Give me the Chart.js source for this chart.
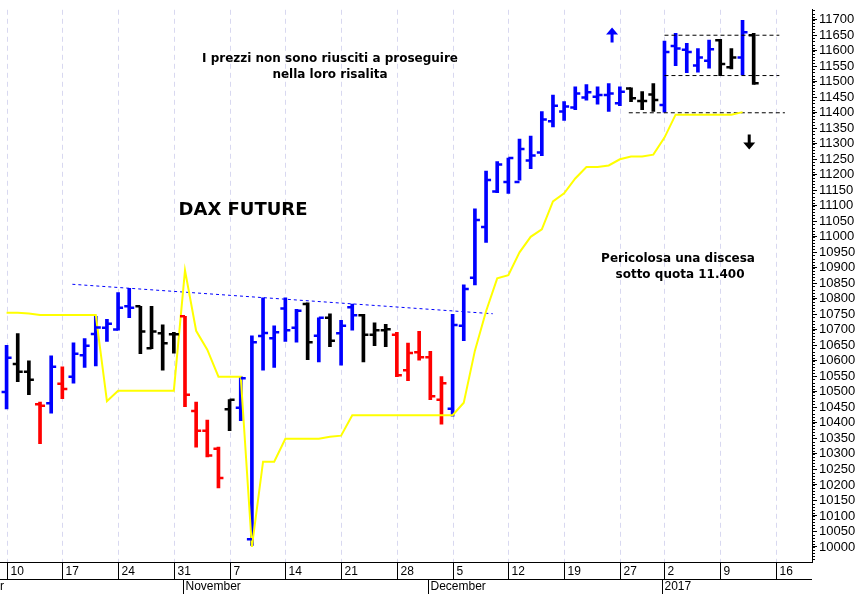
<!DOCTYPE html>
<html><head><meta charset="utf-8">
<script src="https://cdn.jsdelivr.net/npm/chart.js@4/dist/chart.umd.min.js"></script>
<style>html,body{margin:0;padding:0;background:#fff}canvas{display:block}</style>
</head><body>
<canvas id="c" width="861" height="594"></canvas>
<script>
// trading-day index 0 = Mon 10 Oct 2016
const opens  = [10500,10590,10565,10460,10463,10526,10549,10618,10687,10707,10701,10776,10776,10641,10689,10686,10744,10438,10375,10317,10444,10449,10025,10680,10673,10769,10707,10783,10681,10739,10689,10773,10747,10684,10699,10684,10570,10628,10612,10475,10446,10713,10868,11032,11146,11177,11177,11246,11272,11373,11404,11417,11449,11452,11457,11431,11478,11438,11459,11425,11615,11603,11552,11568,11634,11547,11578,11650];
const highs  = [10650,10688,10600,10467,10616,10581,10658,10672,10744,10734,10820,10834,10776,10776,10716,10692,10744,10467,10409,10322,10475,10549,10681,10803,10713,10803,10766,10787,10739,10752,10731,10783,10750,10723,10718,10692,10657,10695,10631,10549,10750,10845,11090,11212,11243,11254,11315,11325,11404,11457,11436,11484,11491,11484,11494,11484,11480,11468,11494,11631,11656,11624,11607,11634,11637,11607,11698,11656];
const lows   = [10445,10533,10491,10333,10431,10478,10528,10579,10584,10663,10699,10739,10623,10639,10570,10625,10452,10322,10290,10190,10375,10407,10005,10570,10579,10663,10660,10604,10597,10646,10586,10699,10597,10649,10646,10549,10536,10602,10475,10396,10422,10665,10845,10982,11142,11140,11183,11220,11262,11354,11375,11410,11441,11428,11404,11423,11436,11410,11404,11402,11552,11529,11531,11544,11520,11541,11522,11491];
const closes = [10610,10565,10539,10455,10581,10509,10623,10649,10708,10720,10771,10771,10695,10695,10657,10686,10491,10375,10295,10222,10475,10544,10660,10690,10692,10699,10762,10660,10739,10665,10713,10747,10684,10699,10702,10554,10625,10612,10486,10528,10716,10832,11054,11183,11233,11254,11283,11262,11378,11423,11420,11462,11466,11457,11462,11468,11447,11438,11441,11596,11607,11596,11578,11605,11557,11578,11660,11495];
const barColors = "BKKRBRBBBBBBKKKKRRRRKBBBBBBKBKBBKKKRRRRRBBBBBBBBBBBBBBBBKKKBBBBBKKBK";
const stopLine = [10755,10755,10753,10748,10748,10748,10748,10748,10748,10470,10504,10504,10504,10504,10504,10504,10892,10697,10636,10549,10549,10549,10000,10275,10275,10349,10349,10349,10349,10355,10359,10425,10425,10425,10425,10425,10425,10425,10425,10425,10425,10465,10633,10760,10866,10876,10950,11000,11024,11114,11140,11188,11225,11225,11230,11250,11259,11259,11265,11320,11394,11394,11394,11394,11394,11394,11402];
const trendX = [5.9,43.6], trendY = [10847,10752];
const levelHigh = 11650, levelMid = 11520, levelLow = 11400;
const levelX = [59,69.3], levelLowX = [55.8,69.8];
const yTickMin = 10000, yTickMax = 11700, yTickStep = 50;
const weekIdx = [0,5,10,15,20,25,30,35,40,45,50,55,59,64,69];
const weekLabels = ["10","17","24","31","7","14","21","28","5","12","19","27","2","9","16"];
const monthIdx = [-4.6,15.8,37.8,58.8];
const monthLabels = ["October","November","December","2017"];

const colMap = {B:'#0000ff',K:'#000000',R:'#ff0000'};
const idx = opens.map((_,i)=>i);

const ohlcPlugin = {
  id:'ohlc',
  beforeDatasetsDraw(chart){
    const {ctx, chartArea:a, scales:{x}} = chart;
    ctx.save();
    ctx.strokeStyle='#d8d8f0'; ctx.lineWidth=1; ctx.setLineDash([5,4]);
    weekIdx.forEach(w=>{const px=Math.round(x.getPixelForValue(w))+0.5;ctx.beginPath();ctx.moveTo(px,a.top);ctx.lineTo(px,a.bottom);ctx.stroke();});
    ctx.restore();
  },
  afterDatasetsDraw(chart){
    const {ctx, chartArea:a, scales:{x,y}} = chart;
    ctx.save();
    ctx.lineWidth=2.5; ctx.lineCap='butt';
    idx.forEach(i=>{
      const px=x.getPixelForValue(i);
      ctx.strokeStyle=colMap[barColors[i]];
      let yo=y.getPixelForValue(opens[i]), yc=y.getPixelForValue(closes[i]);
      ctx.beginPath();ctx.moveTo(px-5,yo);ctx.lineTo(px,yo);ctx.moveTo(px,yc);ctx.lineTo(px+5,yc);ctx.stroke();
    });
    function arrow(v,val,dir,col){
      const px=x.getPixelForValue(v), py=y.getPixelForValue(val);
      ctx.fillStyle=col; ctx.beginPath();
      if(dir<0){ctx.moveTo(px-1.5,py);ctx.lineTo(px+1.5,py);ctx.lineTo(px+1.5,py+8);ctx.lineTo(px+6,py+8);ctx.lineTo(px,py+15);ctx.lineTo(px-6,py+8);ctx.lineTo(px-1.5,py+8);}
      else{ctx.moveTo(px-1.5,py+15);ctx.lineTo(px+1.5,py+15);ctx.lineTo(px+1.5,py+7);ctx.lineTo(px+6,py+7);ctx.lineTo(px,py);ctx.lineTo(px-6,py+7);ctx.lineTo(px-1.5,py+7);}
      ctx.closePath();ctx.fill();
    }
    arrow(54.3,11675,1,'#0000ff');
    arrow(66.6,11330,-1,'#000');
    ctx.fillStyle='#000'; ctx.textAlign='center'; ctx.textBaseline='middle';
    ctx.font='bold 12px "DejaVu Sans", Verdana, sans-serif';
    ctx.fillText('I prezzi non sono riusciti a proseguire',330,59);
    ctx.fillText('nella loro risalita',330,75);
    ctx.fillText('Pericolosa una discesa',678,259);
    ctx.fillText('sotto quota 11.400',680,275);
    ctx.font='bold 18px "DejaVu Sans", Verdana, sans-serif';
    ctx.fillText('DAX FUTURE',243,210);
    ctx.strokeStyle='#000'; ctx.lineWidth=1;
    const b=a.bottom;
    ctx.beginPath();ctx.moveTo(0,b+0.5);ctx.lineTo(a.right,b+0.5);ctx.moveTo(0,b+17.5);ctx.lineTo(a.right,b+17.5);ctx.stroke();
    ctx.font='12px "Liberation Sans Narrow","Liberation Sans",Arial,sans-serif';
    ctx.textAlign='left';
    weekIdx.forEach((w,k)=>{const px=Math.round(x.getPixelForValue(w))+0.5;ctx.beginPath();ctx.moveTo(px,b);ctx.lineTo(px,b+17);ctx.stroke();ctx.fillText(weekLabels[k],px+3,b+10);});
    monthIdx.forEach((m,k)=>{let px=Math.round(x.getPixelForValue(m))+0.5;
      if(px<0){ctx.textAlign='right';ctx.fillText(monthLabels[k],4,b+25);ctx.textAlign='left';return;}
      ctx.beginPath();ctx.moveTo(px,b+17);ctx.lineTo(px,b+32);ctx.stroke();ctx.fillText(monthLabels[k],px+2,b+25);});
    ctx.beginPath();
    for(let v=9960;v<=11730;v+=10){const py=Math.round(y.getPixelForValue(v))+0.5;ctx.moveTo(a.right,py);ctx.lineTo(a.right+3,py);}
    ctx.stroke();
    ctx.restore();
  }
};

new Chart(document.getElementById('c'),{
  data:{datasets:[
    {type:'bar',order:3,data:idx.map(i=>({x:i,y:[lows[i],highs[i]]})),backgroundColor:idx.map(i=>colMap[barColors[i]]),barThickness:3,borderWidth:0,grouped:false},
    {type:'line',order:1,data:stopLine.map((v,i)=>({x:i,y:v})),borderColor:'#ffff00',borderWidth:2,pointRadius:0,tension:0},
    {type:'line',order:1,data:trendX.map((v,i)=>({x:v,y:trendY[i]})),borderColor:'#0000ff',borderWidth:1,borderDash:[3,3],pointRadius:0},
    {type:'line',order:1,data:levelX.map(v=>({x:v,y:levelHigh})),borderColor:'#000',borderWidth:1,borderDash:[4,3],pointRadius:0},
    {type:'line',order:1,data:levelX.map(v=>({x:v,y:levelMid})),borderColor:'#000',borderWidth:1,borderDash:[4,3],pointRadius:0},
    {type:'line',order:1,data:levelLowX.map(v=>({x:v,y:levelLow})),borderColor:'#000',borderWidth:1,borderDash:[4,3],pointRadius:0}
  ]},
  options:{
    responsive:false, animation:false,
    layout:{padding:{left:0,top:0,right:0,bottom:32}},
    plugins:{legend:{display:false},tooltip:{enabled:false}},
    scales:{
      x:{type:'linear',min:-0.59,max:72.23,display:false,offset:false},
      y:{position:'right',min:9951.5,max:11732,
         afterBuildTicks(s){const t=[];for(let v=yTickMin;v<=yTickMax;v+=yTickStep)t.push({value:v});s.ticks=t;},
         afterFit(s){s.width=49;},
         ticks:{autoSkip:false,color:'#000',padding:2,font:{family:'"Liberation Sans",Arial,sans-serif',size:13},callback:v=>String(v)},
         grid:{drawOnChartArea:false,drawTicks:true,tickLength:5,color:'#000'},
         border:{display:true,color:'#000',width:1}}
    }
  },
  plugins:[ohlcPlugin]
});
</script>
</body></html>
